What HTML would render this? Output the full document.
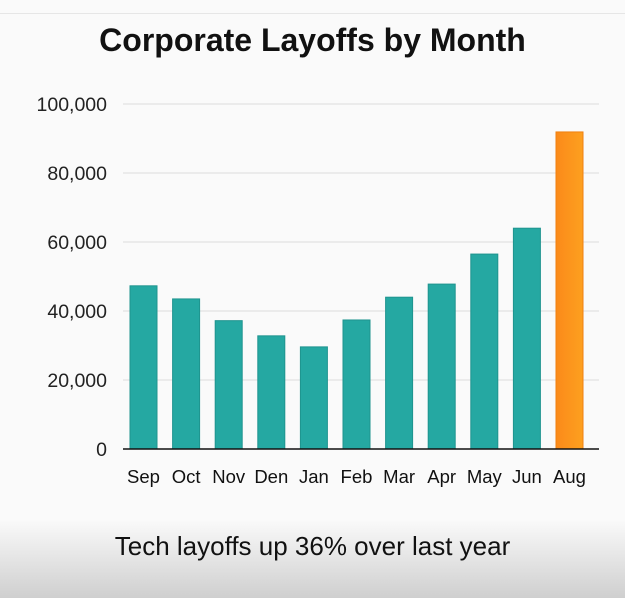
<!DOCTYPE html>
<html><head><meta charset="utf-8"><style>
html,body{margin:0;padding:0;width:625px;height:598px;overflow:hidden;background:#fafafa;font-family:"Liberation Sans",sans-serif;}
#wrap{position:relative;width:625px;height:598px;background:linear-gradient(#fafafa 0,#fafafa 520px,#cfcfcf 598px);}
#topline{position:absolute;left:0;top:13px;width:625px;height:1px;background:#e6e6e6;}
#title{position:absolute;left:0;width:625px;top:22px;text-align:center;font-weight:bold;font-size:32px;color:#111;}
#caption{position:absolute;left:0;width:625px;top:531px;text-align:center;font-size:26px;color:#111;}
</style></head><body>
<div id="wrap">
<div id="topline"></div>
<div id="title">Corporate Layoffs by Month</div>
<svg id="chart" width="625" height="598" style="position:absolute;left:0;top:0"></svg>
<div id="caption">Tech layoffs up 36% over last year</div>
</div>
<script>
const categories=["Sep","Oct","Nov","Den","Jan","Feb","Mar","Apr","May","Jun","Aug"];
const values=[47300,43500,37200,32800,29600,37400,44000,47800,56500,64000,91900];
const yTicks=[0,20000,40000,60000,80000,100000];
const tickLabels=["0","20,000","40,000","60,000","80,000","100,000"];
const NS="http://www.w3.org/2000/svg";
const svg=document.getElementById('chart');
const x0=123,x1=599,yBase=449,yTop=104,yMax=100000;
const y=v=>yBase-(v/yMax)*(yBase-yTop);
const step=42.6,firstLeft=130,bw=27;
const xb=i=>firstLeft+i*step;
function mk(t,a){const e=document.createElementNS(NS,t);for(const k in a)e.setAttribute(k,a[k]);svg.appendChild(e);return e;}
const defs=mk('defs',{});
defs.innerHTML='<linearGradient id="og" x1="0" y1="0" x2="1" y2="0"><stop offset="0" stop-color="#fb8a1a"/><stop offset="1" stop-color="#fda01f"/></linearGradient>';
yTicks.forEach((t,i)=>{
 if(t>0){const g=mk('line',{x1:x0,x2:x1,y1:y(t),y2:y(t),stroke:'#e2e2e2','stroke-width':1.3});
 
 }
 const l=mk('text',{x:107,y:y(t)+7,'text-anchor':'end','font-size':19.5,fill:'#222','font-family':'Liberation Sans, sans-serif'});
 l.textContent=tickLabels[i];
 
 
});
values.forEach((v,i)=>{
 const last=i===values.length-1;
 const r=mk('rect',{x:xb(i),y:y(v),width:bw,height:yBase-y(v),fill:last?'url(#og)':'#25a8a2',stroke:last?'#f08010':'#1f948f','stroke-width':1});
 
 
 const l=mk('text',{x:xb(i)+bw/2,y:483,'text-anchor':'middle','font-size':18.5,fill:'#111','font-family':'Liberation Sans, sans-serif'});
 l.textContent=categories[i];
 
 
});
const ax=mk('line',{x1:x0,x2:x1,y1:yBase,y2:yBase,stroke:'#111','stroke-width':1.5});


</script>
</body></html>
